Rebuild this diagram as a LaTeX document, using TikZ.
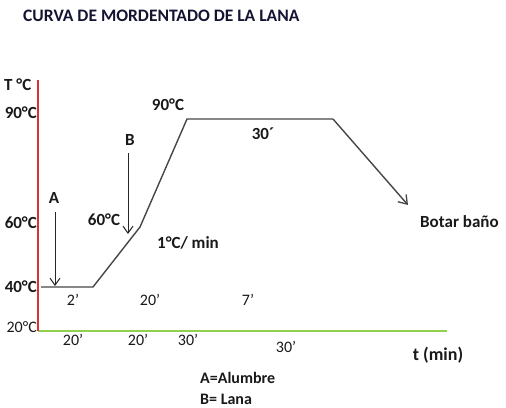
\documentclass[tikz,border=0pt]{standalone}
\usepackage{fontspec}
\setmainfont{Carlito}
\usetikzlibrary{arrows.meta}
\definecolor{curvegray}{RGB}{70,70,70}
\definecolor{axisred}{RGB}{220,50,50}
\definecolor{axisgreen}{RGB}{146,208,80}
\definecolor{titleblue}{RGB}{20,20,50}
\begin{document}
\begin{tikzpicture}[x=1pt,y=-1pt,
  lbl/.style={font=\bfseries\fontsize{17}{20}\selectfont, inner sep=0pt, text=black!90},
  reg/.style={font=\fontsize{16}{19}\selectfont, inner sep=0pt, text=black!90},
  legend/.style={font=\bfseries\fontsize{16}{19}\selectfont, inner sep=0pt, text=black!90, anchor=west},
  curve/.style={draw=curvegray, line width=1.4pt, line join=miter},
  arr/.style={-{Straight Barb[length=7pt,width=10pt,line width=1pt]}, line width=1pt, draw=black!85}]
\useasboundingbox (0,0) rectangle (506,407);
% axes
\coordinate (ytop) at (38,80);
\coordinate (origin) at (38,331);
\coordinate (xend) at (447,331);
\draw[axisgreen, line width=1.4pt] (origin) -- (xend);
\draw[axisred, line width=1.2pt] (ytop) -- (origin);
% curve points
\coordinate (p0) at (41,287);
\coordinate (p1) at (93,287);
\coordinate (p2) at (140,227);
\coordinate (p3) at (187,119);
\coordinate (p4) at (333,119);
\coordinate (p5) at (408,205);
\draw[curve] (p0) -- (p1) -- (p2) -- (p3) -- (p4);
\draw[curve, -{Straight Barb[length=8pt,width=11pt,line width=1.3pt]}] (p4) -- (p5);
% arrows A and B
\coordinate (a0) at (55,212);
\coordinate (a1) at (55,286);
\coordinate (b0) at (128,153);
\coordinate (b1) at (128,234);
\draw[arr] (a0) -- (a1);
\draw[arr] (b0) -- (b1);
% title
\node[lbl, font=\bfseries\fontsize{17.5}{20}\selectfont, text=titleblue, anchor=west] (title) at (23,16) {CURVA DE MORDENTADO DE LA LANA};
% y labels
\node[lbl, anchor=west] (tc) at (4,85) {T °C};
\node[lbl, anchor=east] (y90) at (37,113) {90°C};
\node[lbl, anchor=east] (y60) at (37,223) {60°C};
\node[lbl, anchor=east] (y40) at (37,287) {40°C};
\node[reg, anchor=east] (y20) at (37,327) {20°C};
% curve labels
\node[lbl] (la) at (54,198) {A};
\node[lbl] (lb) at (130,140) {B};
\node[lbl] (l60) at (104,220) {60°C};
\node[lbl] (l90) at (168,105) {90°C};
\node[lbl] (l30) at (263,134) {30´};
\node[lbl] (rate) at (188,243) {1°C/ min};
\node[lbl, anchor=west] (botar) at (420,222) {Botar baño};
% time labels
\node[reg] (t2) at (73,300) {2'};
\node[reg] (t20a) at (150,300) {20'};
\node[reg] (t7) at (248,300) {7'};
\node[reg] (b20a) at (73,340) {20'};
\node[reg] (b20b) at (138,340) {20'};
\node[reg] (b30a) at (188,340) {30'};
\node[reg] (b30b) at (286,347) {30'};
\node[lbl, font=\bfseries\fontsize{18}{21}\selectfont] (tmin) at (438,355) {t (min)};
% legend
\node[legend] (legA) at (200,378) {A=Alumbre};
\node[legend] (legB) at (200,399) {B= Lana};
\end{tikzpicture}
\end{document}
